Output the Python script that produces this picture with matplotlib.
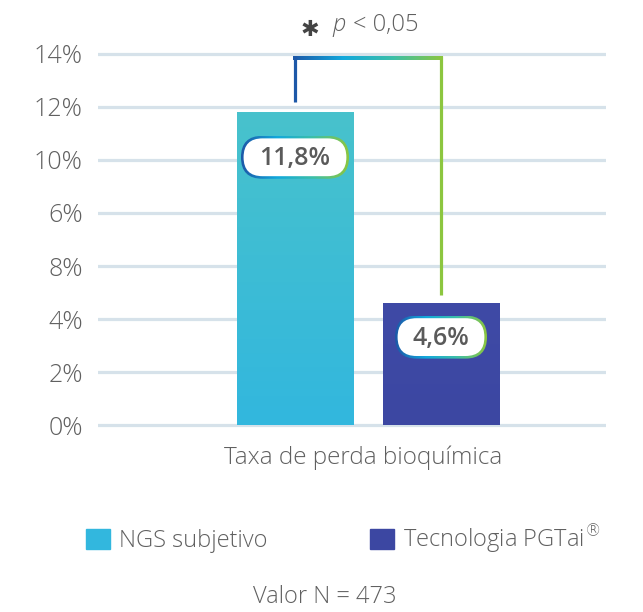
import numpy as np
import matplotlib.pyplot as plt
from matplotlib.patches import FancyBboxPatch, Patch
from matplotlib.colors import LinearSegmentedColormap

plt.rcParams['font.family'] = ['Open Sans', 'DejaVu Sans']
plt.rcParams['font.weight'] = 'light'

W, H = 643, 612

# dati
categories = ['NGS subjetivo', r'Tecnologia PGTai$^{®}$']
values = [11.8, 4.6]
value_labels = ['11,8%', '4,6%']
tick_pos = [0, 2, 4, 6, 8, 10, 12, 14]
tick_labels = ['0%', '2%', '4%', '8%', '6%', '10%', '12%', '14%']
xlabel = 'Taxa de perda bioquímica'
p_label = '< 0,05'
n_label = 'Valor N = 473'

# stile
txt_col = '#606060'
bar_top = ['#48c2cc', '#3f4aa6']
bar_bot = ['#32b7de', '#3c47a2']
blue, cyan, green = '#1d58a8', '#12a8dc', '#8cc63f'
brd_cmap = LinearSegmentedColormap.from_list('brd', [blue, cyan, '#3cbfa8', green])

fig = plt.figure(figsize=(W / 100, H / 100), dpi=100)
fig.patch.set_facecolor('white')
ax = fig.add_axes([98 / W, 1 - 429 / H, 508 / W, 379 / H])

xs = np.arange(len(values))
bars = ax.bar(xs, values, width=0.795, color=bar_bot, zorder=2)
# gradiente verticale nelle barre
for i, b in enumerate(bars):
    cm = LinearSegmentedColormap.from_list(f'b{i}', [bar_bot[i], bar_top[i]])
    grad = np.linspace(0, 1, 128).reshape(-1, 1)
    im = ax.imshow(grad, cmap=cm, origin='lower', aspect='auto', zorder=3,
                   extent=[b.get_x(), b.get_x() + b.get_width(), 0, b.get_height()])
    im.set_clip_path(b)

ax.set_yticks(tick_pos)
ax.set_yticklabels(tick_labels)
ax.set_xticks([])
ax.tick_params(axis='y', length=0, pad=11, labelsize=18, labelcolor=txt_col)
ax.grid(axis='y', color='#d6e2ea', lw=2.3)
ax.set_axisbelow(True)
for s in ax.spines.values():
    s.set_visible(False)

# parentesi di significatività
y_top = 13.85
hw = 0.06
hgrad = np.linspace(0, 1, 256).reshape(1, -1)
ax.imshow(hgrad, cmap=brd_cmap, aspect='auto', zorder=4,
          extent=[xs[0] - 0.011, xs[1] + 0.011, y_top - hw, y_top + hw])
ax.plot([xs[0], xs[0]], [values[0] + 0.38, y_top + hw], color=blue, lw=2.3,
        solid_capstyle='butt', zorder=4)
ax.plot([xs[1], xs[1]], [values[1] + 0.3, y_top + hw], color=green, lw=2.3,
        solid_capstyle='butt', zorder=4)
ax.set_xlim(-1.349, 2.13)
ax.set_ylim(-0.15, 14.15)

# overlay in pixel per le etichette a pillola
ov = fig.add_axes([0, 0, 1, 1])
ov.set_zorder(5)
ov.axis('off')
label_drop = [45, 34]
pill_w = [108, 92]
pill_h = 43
border = 2.6
gr = np.linspace(0, 1, 256).reshape(1, -1)
for i, v in enumerate(values):
    dx, dy = ax.transData.transform((xs[i], v))
    cx, cy = dx, H - dy + label_drop[i]
    w = pill_w[i]
    x0, y0 = cx - w / 2, cy - pill_h / 2
    outer = FancyBboxPatch((x0, y0), w, pill_h, boxstyle=f'round,pad=0,rounding_size={pill_h / 2}',
                           fc='none', ec='none')
    ov.add_patch(outer)
    im = ov.imshow(gr, cmap=brd_cmap, aspect='auto', extent=[x0, x0 + w, y0 + pill_h, y0], zorder=1)
    im.set_clip_path(outer)
    ih = pill_h - 2 * border
    inner = FancyBboxPatch((x0 + border, y0 + border), w - 2 * border, ih,
                           boxstyle=f'round,pad=0,rounding_size={ih / 2}', fc='white', ec='none', zorder=2)
    ov.add_patch(inner)
    ov.text(cx, cy + 1, value_labels[i], ha='center', va='center', fontsize=18,
            fontweight='semibold', color='#5a5a5a', zorder=3)
ov.set_xlim(0, W)
ov.set_ylim(H, 0)

# testo p-value
fig.text(310 / W, 1 - 30 / H, '✱', fontsize=16, fontweight='normal', color='#444444',
         ha='center', va='center', family=['DejaVu Sans'])
fig.text(332 / W, 1 - 25 / H, 'p', fontsize=17, style='italic', color=txt_col, ha='left', va='center')
fig.text(353 / W, 1 - 25 / H, p_label, fontsize=17, color=txt_col, ha='left', va='center')

fig.text(363 / W, 1 - 458 / H, xlabel, fontsize=17.5, color=txt_col, ha='center', va='center')

handles = [Patch(color=bar_bot[0]), Patch(color=bar_bot[1])]
fig.legend(handles, categories, loc='center left', bbox_to_anchor=(86 / W, 1 - 539 / H), ncol=2,
           frameon=False, fontsize=17, labelcolor=txt_col, handlelength=1.0, handleheight=0.95,
           handletextpad=0.4, columnspacing=4.35, borderpad=0, borderaxespad=0)

fig.text(325 / W, 1 - 597 / H, n_label, fontsize=17, color=txt_col, ha='center', va='center')

fig.savefig('out.png', dpi=100, facecolor='white')
